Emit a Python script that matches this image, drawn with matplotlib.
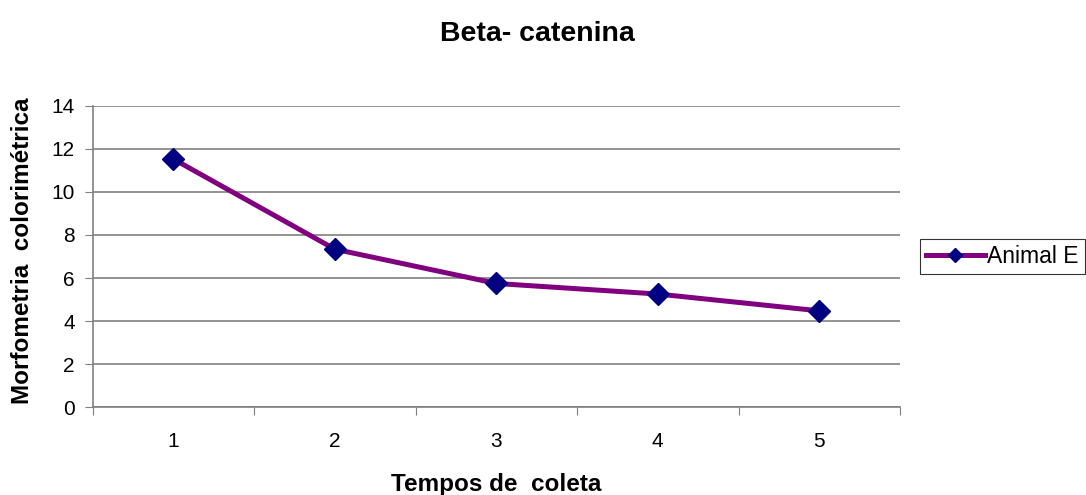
import matplotlib
matplotlib.use("Agg")
import matplotlib.pyplot as plt
import numpy as np

plt.rcParams['font.family'] = ['Liberation Sans', 'DejaVu Sans']

categories = ["1", "2", "3", "4", "5"]
animal_e = [11.52, 7.34, 5.75, 5.26, 4.48]
yticks = [0, 2, 4, 6, 8, 10, 12, 14]

fig = plt.figure(figsize=(10.86, 4.95), dpi=100)
ax = fig.add_axes([0.0854, 0.177, 0.7433, 0.6095])

x = np.arange(1, len(categories) + 1)
ax.plot(x, animal_e, color='#800080', lw=3.6, marker='D', markersize=11.5,
        markerfacecolor='#000080', markeredgecolor='#000080', label='Animal E',
        zorder=3, solid_joinstyle='miter')

ax.set_xlim(0.5, len(categories) + 0.5)
ax.set_ylim(0, 14)
ax.set_yticks(yticks)
ax.set_yticklabels([str(v) for v in yticks], fontsize=15)
ax.yaxis.grid(True, color='#808080', lw=1.2)
ax.set_axisbelow(True)

ax.set_xticks(np.arange(0.5, len(categories) + 1, 1))
ax.set_xticklabels([])
ax.set_xticks(x, minor=True)
ax.set_xticklabels(categories, minor=True, fontsize=15)
ax.tick_params(axis='x', which='minor', length=0, pad=18)
ax.tick_params(axis='x', which='major', length=6, color='#808080', direction='out')
ax.tick_params(axis='y', length=6, color='#808080', direction='out', pad=7)

for s in ['top', 'right']:
    ax.spines[s].set_visible(False)
for s in ['left', 'bottom']:
    ax.spines[s].set_color('#808080')
    ax.spines[s].set_linewidth(1.2)

fig.text(0.4945, 0.932, 'Beta- catenina', ha='center', va='center',
         fontsize=20.5, fontweight='bold')
fig.text(0.4565, 0.022, 'Tempos de  coleta', ha='center', va='center',
         fontsize=17.5, fontweight='bold')
fig.text(0.021, 0.494, 'Morfometria  colorimétrica', ha='center', va='center',
         rotation=90, fontsize=17.5, fontweight='bold')

leg = fig.legend(loc='center left', bbox_to_anchor=(0.847, 0.482), fontsize=16.5,
                 frameon=True, fancybox=False, edgecolor='black',
                 handlelength=2.6, handletextpad=0.1, borderpad=0.25,
                 borderaxespad=0, markerscale=0.6)
leg.get_frame().set_linewidth(0.8)

fig.savefig('out.png', dpi=100)
